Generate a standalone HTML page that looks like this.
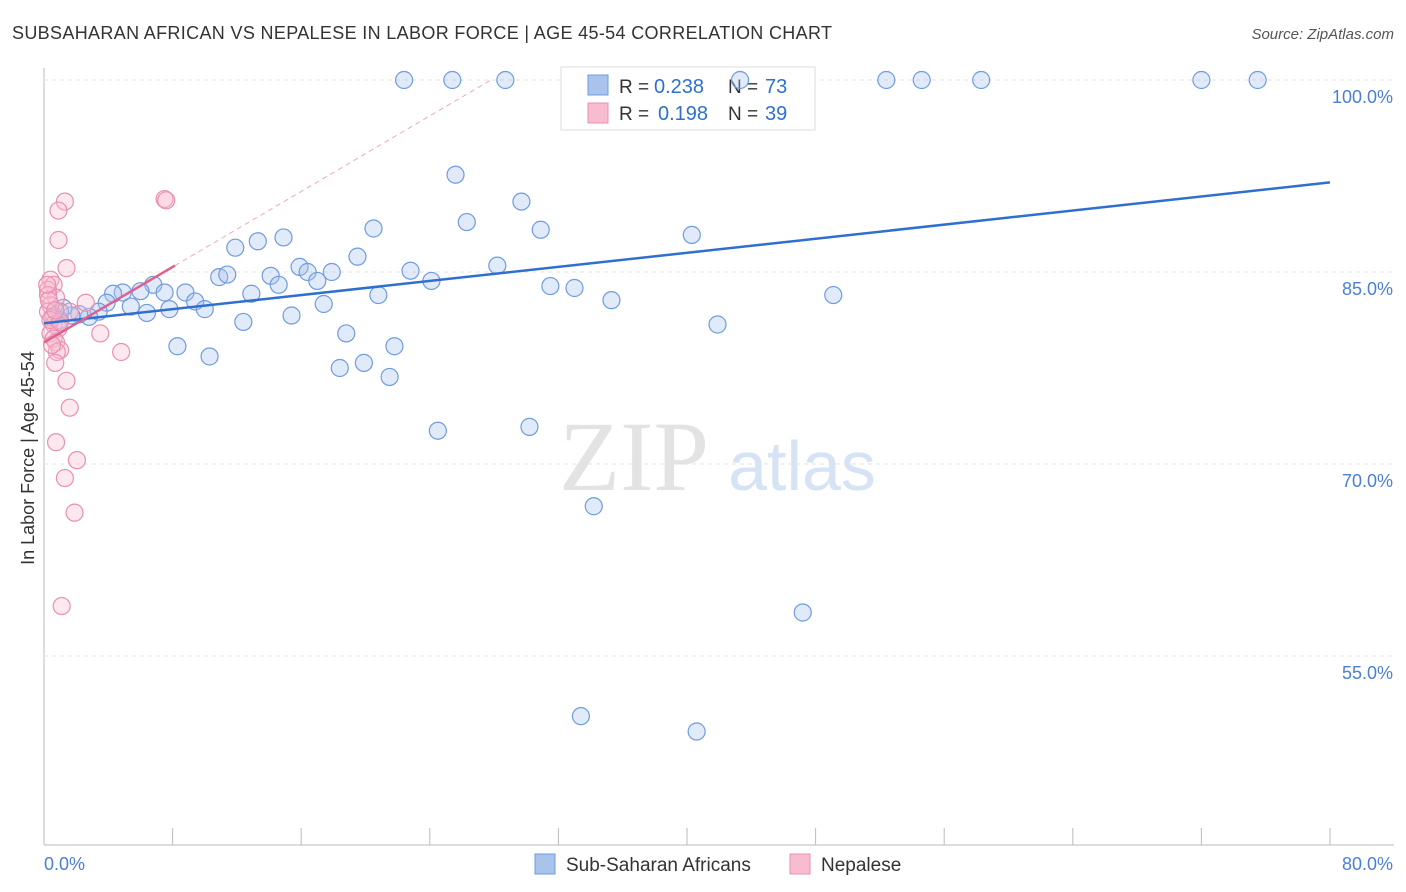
<!DOCTYPE html>
<html><head><meta charset="utf-8"><style>
body{margin:0;background:#fff;font-family:"Liberation Sans",sans-serif;}
svg{display:block}
</style></head><body>
<svg id="chart" width="1406" height="892" xmlns="http://www.w3.org/2000/svg">
<text x="12" y="39" font-size="18" fill="#333" textLength="820">SUBSAHARAN AFRICAN VS NEPALESE IN LABOR FORCE | AGE 45-54 CORRELATION CHART</text>
<text x="1394" y="39" font-size="15" fill="#555" font-style="italic" text-anchor="end">Source: ZipAtlas.com</text>
<text x="634" y="490" font-size="100" fill="#e3e3e3" font-family="Liberation Serif,serif" text-anchor="middle">ZIP</text>
<text x="802" y="490" font-size="70" fill="#d6e3f5" text-anchor="middle">atlas</text>
<text transform="translate(34,458) rotate(-90)" font-size="18" fill="#333" text-anchor="middle">In Labor Force | Age 45-54</text>
<g id="grid"></g>
<g>
<rect x="561" y="67" width="254" height="63" fill="#fff" stroke="#ddd"/>
<rect x="588" y="75" width="20" height="20" fill="#a8c4ec" stroke="#6f9be0"/>
<rect x="588" y="103" width="20" height="20" fill="#f8bcd0" stroke="#e890b0"/>
<text x="619" y="93" font-size="19" fill="#333">R =</text><text x="654" y="93" font-size="20" fill="#2f6fd0">0.238</text>
<text x="728" y="93" font-size="19" fill="#333">N =</text><text x="765" y="93" font-size="20" fill="#2f6fd0">73</text>
<text x="619" y="120" font-size="19" fill="#333">R =</text><text x="658" y="120" font-size="20" fill="#2f6fd0">0.198</text>
<text x="728" y="120" font-size="19" fill="#333">N =</text><text x="765" y="120" font-size="20" fill="#2f6fd0">39</text>
</g>
<g id="marks"></g>
<g>
<rect x="535" y="854" width="20" height="20" fill="#a8c4ec" stroke="#6f9be0"/>
<text x="566" y="871" font-size="19" fill="#333">Sub-Saharan Africans</text>
<rect x="790" y="854" width="20" height="20" fill="#f8bcd0" stroke="#e890b0"/>
<text x="821" y="871" font-size="19" fill="#333">Nepalese</text>
</g>
<text x="44" y="870" font-size="18" fill="#4a7fd6">0.0%</text>
<text x="1393" y="870" font-size="18" fill="#4a7fd6" text-anchor="end">80.0%</text>
</svg>
<script>
const yTicks=[100,85,70,55];
const yTickLabels=["100.0%","85.0%","70.0%","55.0%"];
const xTicks=[0,8,16,24,32,40,48,56,64,72,80];
const blueX=[22.4,25.4,28.7,43.3,52.4,54.6,58.3,72.0,75.5,25.6,29.7,26.3,30.9,20.5,40.3,13.3,14.9,11.9,19.5,15.9,10.9,11.4,14.1,16.4,17.9,22.8,14.6,17.0,28.2,24.1,31.5,33.0,35.3,49.1,20.8,12.9,6.8,7.5,8.8,6.0,4.9,4.3,9.4,10.0,7.8,6.4,5.4,3.9,3.4,2.8,2.2,1.7,1.2,1.0,0.6,17.4,15.4,12.4,41.9,18.8,8.3,10.3,21.8,19.9,18.4,21.5,24.5,30.2,34.2,47.2,33.4,40.6,1.0];
const blueY=[100,100,100,100,100,100,100,100,100,92.6,90.5,88.9,88.3,88.4,87.9,87.4,87.7,86.9,86.2,85.4,84.6,84.8,84.7,85.0,85.0,85.1,84.0,84.3,85.5,84.3,83.9,83.75,82.8,83.2,83.2,83.3,84.0,83.4,83.4,83.5,83.4,83.3,82.7,82.1,82.1,81.8,82.3,82.6,81.9,81.5,81.7,81.6,82.2,81.25,81.6,82.5,81.6,81.1,80.9,80.2,79.2,78.4,79.2,77.9,77.5,76.8,72.6,72.9,66.7,58.4,50.3,49.1,81.9];
const pinkX=[1.3,0.9,7.5,7.6,0.9,1.4,0.4,0.6,0.25,0.75,2.6,0.4,0.25,0.5,0.6,0.9,0.4,0.6,0.75,3.5,1.0,0.8,4.8,0.7,1.4,1.6,0.75,2.05,1.3,1.9,1.1,0.25,0.4,1.6,0.5,0.3,1.0,0.7,0.2];
const pinkY=[90.5,89.8,90.7,90.6,87.5,85.3,84.4,84.0,83.6,83.0,82.6,82.4,81.9,81.4,80.9,80.6,80.2,79.8,79.5,80.2,78.9,78.75,78.75,77.9,76.5,74.4,71.7,70.3,68.9,66.2,58.9,83.2,81.25,81.9,79.3,82.8,81.1,82.0,84.0];
const blueTrend=[[0,81.0],[80,92.0]];
const pinkTrend=[[0,79.5],[8.15,85.5]];
const pinkDash=[[8.15,85.5],[27.8,100]];
const X=v=>44+v*1286/80, Y=v=>80+(100-v)*12.8;
const NS="http://www.w3.org/2000/svg";
function mk(p,t,a){const e=document.createElementNS(NS,t);for(const k in a)e.setAttribute(k,a[k]);p.appendChild(e);return e;}
const g=document.getElementById('grid'),m=document.getElementById('marks');
let ax=mk(g,'line',{x1:44,y1:68,x2:44,y2:845,stroke:'#bbb'});


let bx=mk(g,'line',{x1:44,y1:845,x2:1394,y2:845,stroke:'#bbb'});


yTicks.forEach((v,i)=>{
 let l=mk(g,'line',{x1:44,y1:Y(v),x2:1394,y2:Y(v),stroke:'#e2e2e2','stroke-dasharray':'4,4'});
 
 
 let t=mk(g,'text',{x:1393,y:Y(v)+23,'font-size':18,fill:'#4a7fd6','text-anchor':'end'});
 t.textContent=yTickLabels[i];
 
 
});
xTicks.forEach(v=>{
 let l=mk(g,'line',{x1:X(v),y1:828,x2:X(v),y2:845,stroke:'#bbb'});
 
 
});
blueX.forEach((x,i)=>{
 let c=mk(m,'circle',{cx:X(x),cy:Y(blueY[i]),r:8.5,fill:'rgba(168,196,236,0.35)',stroke:'#6f9be0','stroke-width':1.2});
 
 
});
pinkX.forEach((x,i)=>{
 let c=mk(m,'circle',{cx:X(x),cy:Y(pinkY[i]),r:8.5,fill:'rgba(248,188,208,0.35)',stroke:'#e890b0','stroke-width':1.2});
 
 
});
let bl=mk(m,'line',{x1:X(blueTrend[0][0]),y1:Y(blueTrend[0][1]),x2:X(blueTrend[1][0]),y2:Y(blueTrend[1][1]),stroke:'#2f6fd0','stroke-width':2.5});


let pl=mk(m,'line',{x1:X(pinkTrend[0][0]),y1:Y(pinkTrend[0][1]),x2:X(pinkTrend[1][0]),y2:Y(pinkTrend[1][1]),stroke:'#e0608e','stroke-width':2.5});


let pd=mk(m,'line',{x1:X(pinkDash[0][0]),y1:Y(pinkDash[0][1]),x2:X(pinkDash[1][0]),y2:Y(pinkDash[1][1]),stroke:'#f0a8c0','stroke-width':1,'stroke-dasharray':'5,4'});


</script>
</body></html>
